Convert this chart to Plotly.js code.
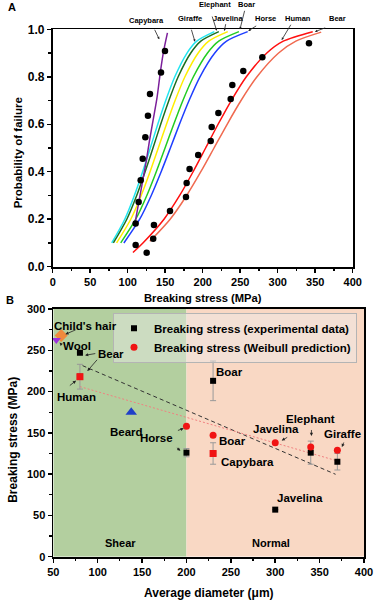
<!DOCTYPE html>
<html>
<head>
<meta charset="utf-8">
<script src="https://cdn.plot.ly/plotly-3.0.1.min.js"></script>
<style>html,body{margin:0;padding:0;background:#fff}#chart{width:381px;height:600px}</style>
</head>
<body>
<div id="chart"></div>
<script>
// ---------- Panel A data ----------
const pGrid = [0.1, 0.2, 0.3, 0.4, 0.5, 0.6, 0.7, 0.8, 0.9, 0.95, 0.99];
const giraffeX = [78.7, 96.1, 108.9, 119.9, 130.1, 140.1, 150.7, 162.8, 179.1, 192.1, 215.5];
const elephantX = [80.9, 98.8, 112.0, 123.2, 133.7, 144.0, 154.9, 167.3, 184.1, 197.5, 221.5];
const javelinaX = [85.2, 104.1, 118.0, 129.8, 140.8, 151.7, 163.2, 176.3, 194.0, 208.1, 233.4];
const boarX = [90.7, 110.7, 125.5, 138.1, 149.8, 161.4, 173.6, 187.6, 206.4, 221.4, 248.3];
const horseX = [94.9, 116.0, 131.4, 144.6, 156.9, 169.0, 181.8, 196.4, 216.1, 231.8, 260.0];

const capyCurveX = [109, 113, 117, 121, 125, 129, 134, 139, 144, 148, 153];
const capyCurveP = [0.17, 0.24, 0.31, 0.38, 0.45, 0.53, 0.62, 0.71, 0.83, 0.91, 0.985];

const humanCurveX = [107, 120.3, 148.4, 169.3, 187.2, 203.9, 220.5, 238.1, 258.2, 285.5, 307.4, 346.7];
const humanCurveP = [0.06, 0.1, 0.2, 0.3, 0.4, 0.5, 0.6, 0.7, 0.8, 0.9, 0.95, 0.99];
const bearCurveX = [129.5, 156.6, 178.6, 197.5, 215.1, 232.6, 251.1, 272.4, 301.2, 324.2, 358];
const bearCurveP = [0.107, 0.2, 0.3, 0.4, 0.5, 0.6, 0.7, 0.8, 0.9, 0.95, 0.988];

const capyDotX = [110.6, 110.6, 114.6, 117.3, 120.0, 123.5, 127.0, 129.7, 144.4, 149.7];
const capyDotP = [0.091, 0.182, 0.273, 0.364, 0.455, 0.545, 0.636, 0.727, 0.818, 0.909];
const humanDotX = [125.3, 134.0, 135.0, 156.4, 177.7, 178.6, 182.5, 194.0, 210.7, 212.0, 220.9, 237.3, 239.5, 254.1, 279.5, 341.7];
const humanDotP = [0.059, 0.118, 0.176, 0.235, 0.294, 0.353, 0.412, 0.471, 0.529, 0.588, 0.647, 0.706, 0.765, 0.824, 0.882, 0.941];

// ---------- Panel B data ----------
const expNames = ['Bear', 'Human', 'Horse', 'Boar', 'Capybara', 'Javelina', 'Elephant', 'Giraffe'];
const expDiam = [80, 80, 200, 230, 230, 300, 340, 370];
const expStress = [247, 218, 126, 213, 125, 57, 126, 115];
const expErr = [null, 15, 5, 24, 13, null, 14, 10];

const weibNames = ['Horse', 'Boar', 'Javelina', 'Elephant', 'Giraffe', 'Human', 'Capybara'];
const weibDiam = [200, 230, 300, 340, 370, 80, 230];
const weibStress = [158, 147, 138, 133, 129, 218, 125];

const fitExpX = [83, 368];
const fitExpY = [231.4, 99.8];
const fitWeibX = [80, 370];
const fitWeibY = [206, 116];

const childX = [58.9], childY = [268];
const woolX = [53.4], woolY = [262.5];
const beardX = [137.8], beardY = [174.9];

// ---------- styles ----------
const FONT = '"Liberation Sans", Arial, sans-serif';
const weibSymbols = ['circle', 'circle', 'circle', 'circle', 'circle', 'square', 'square'];

function curve(x, y, color, w) {
  return {x: x, y: y, type: 'scatter', mode: 'lines', line: {color: color, width: w || 1.5, shape: 'spline', smoothing: 0.8},
    xaxis: 'x', yaxis: 'y', showlegend: false, hoverinfo: 'skip'};
}

const traces = [
  curve(horseX, pGrid, '#1f3fff'),
  curve(boarX, pGrid, '#22cc22'),
  curve(javelinaX, pGrid, '#ffee00'),
  curve(giraffeX, pGrid, '#22e5f0'),
  curve(elephantX, pGrid, '#1e6e1e'),
  curve(capyCurveX, capyCurveP, '#7b1f9a'),
  curve(bearCurveX, bearCurveP, '#f06a50'),
  curve(humanCurveX, humanCurveP, '#ff1010'),
  {x: capyDotX, y: capyDotP, type: 'scatter', mode: 'markers', marker: {color: '#000', size: 6.5},
    xaxis: 'x', yaxis: 'y', showlegend: false, cliponaxis: false},
  {x: humanDotX, y: humanDotP, type: 'scatter', mode: 'markers', marker: {color: '#000', size: 6.5},
    xaxis: 'x', yaxis: 'y', showlegend: false, cliponaxis: false},

  // panel B
  {x: fitExpX, y: fitExpY, type: 'scatter', mode: 'lines', line: {color: '#333', width: 1, dash: '4px,3px'},
    xaxis: 'x2', yaxis: 'y2', showlegend: false},
  {x: fitWeibX, y: fitWeibY, type: 'scatter', mode: 'lines', line: {color: '#f08080', width: 1, dash: '2px,2px'},
    xaxis: 'x2', yaxis: 'y2', showlegend: false},
  {x: childX, y: childY, type: 'scatter', mode: 'markers', marker: {color: '#f08a3c', size: 10, symbol: 'diamond'},
    xaxis: 'x2', yaxis: 'y2', showlegend: false, cliponaxis: false},
  {x: woolX, y: woolY, type: 'scatter', mode: 'markers', marker: {color: '#9b32dc', size: 8, symbol: 'triangle-down'},
    xaxis: 'x2', yaxis: 'y2', showlegend: false, cliponaxis: false},
  {x: beardX, y: beardY, type: 'scatter', mode: 'markers', marker: {color: '#1f3fc8', size: 10, symbol: 'triangle-up'},
    xaxis: 'x2', yaxis: 'y2', showlegend: false},
  {x: expDiam, y: expStress, text: expNames, type: 'scatter', mode: 'markers', name: 'Breaking stress (experimental data)',
    marker: {color: '#000', size: 6, symbol: 'square'},
    error_y: {type: 'data', array: expErr, visible: true, color: '#999', thickness: 1, width: 3},
    xaxis: 'x2', yaxis: 'y2', showlegend: true, cliponaxis: false},
  {x: weibDiam, y: weibStress, text: weibNames, type: 'scatter', mode: 'markers', name: 'Breaking stress (Weibull prediction)',
    marker: {color: '#f01414', size: 7, symbol: weibSymbols},
    xaxis: 'x2', yaxis: 'y2', showlegend: true, cliponaxis: false}
];

function axisBase(extra) {
  return Object.assign({
    showgrid: false, zeroline: false, showline: true, linecolor: '#000', linewidth: 1.8, mirror: true,
    ticks: 'outside', ticklen: 4, tickwidth: 1.5, tickcolor: '#000',
    tickfont: {family: FONT, size: 11, weight: 'bold', color: '#000'},
    fixedrange: true
  }, extra);
}

const ann = [];
function txt(x, y, t, size, bold, xref, yref, extra) {
  ann.push(Object.assign({x: x, y: y, xref: xref, yref: yref, text: t, showarrow: false,
    font: {family: FONT, size: size, weight: bold ? 'bold' : 'normal', color: '#000'},
    xanchor: 'center', yanchor: 'middle'}, extra || {}));
}
function arr(x, y, ax, ay, xref, yref, hs) {
  ann.push({x: x, y: y, xref: xref, yref: yref, text: '', showarrow: true, ax: ax, ay: ay,
    axref: 'pixel', ayref: 'pixel', arrowhead: 2, arrowsize: hs || 1, arrowwidth: 0.8, arrowcolor: '#222',
    standoff: 0, startstandoff: 0});
}
// pixel -> paper helpers for labels placed outside the plotting areas
const PX = px => px / 381;
const PY = py => 1 - py / 600;

// Panel A labels (above the frame, so placed on the page)
const aLab = [
  ['Capybara', 146.7, 20.8], ['Giraffe', 190, 18.3], ['Elephant', 214.7, 4.5], ['Javelina', 227.5, 18.3],
  ['Boar', 246, 4.5], ['Horse', 265, 18.3], ['Human', 298, 18.3], ['Bear', 337, 18.3]
];
aLab.forEach(l => txt(PX(l[1]), PY(l[2]), l[0], 7.5, true, 'paper', 'paper'));
const aArr = [
  [142.1, 0.958, -5.3, -11], [189.7, 0.948, -4, -13.4], [218.7, 0.994, -5, -15.7], [228.8, 0.993, 1.7, -8.3],
  [249.7, 1.0, 5, -20], [260.8, 0.993, 9.4, -6], [305.3, 0.955, 10, -16.7], [349.7, 0.99, 11.7, -4.4]
];
aArr.forEach(a => arr(a[0], a[1], a[2], a[3], 'x', 'y', 0.6));

// Panel B labels
const bLab = [
  ["Child's hair", 85.8, 279.8], ['Wool', 76.4, 255.2], ['Bear', 114.9, 245.5], ['Human', 75.6, 193.1],
  ['Beard', 132.9, 151.4], ['Horse', 166.8, 143.4], ['Boar', 248.9, 224.1], ['Boar', 251.6, 140.1],
  ['Capybara', 268.5, 114.3], ['Javelina', 300.5, 154.7], ['Elephant', 340.1, 166.8], ['Giraffe', 375.9, 148.6],
  ['Javelina', 328, 71.5]
];
bLab.forEach(l => txt(l[1], l[2], l[0], 11.5, true, 'x2', 'y2'));
txt(125.4, 17, 'Shear', 11, true, 'x2', 'y2');
txt(294.9, 17, 'Normal', 11, true, 'x2', 'y2');
const bArr = [
  [63.6, 269.4, 11.7, -5], [57, 259.4, 3.5, 3.5], [85.8, 243.9, 11.7, -2], [88.4, 224.9, 11, -12.7],
  [75.6, 213.2, -7.7, 6], [196.9, 155.5, -7.3, 2.7], [193.2, 128.4, -5, -4], [307.3, 140.7, 7, -4],
  [340.8, 146.2, 0, -7.5], [375.1, 132.9, 2.5, -6]
];
bArr.forEach(a => arr(a[0], a[1], a[2], a[3], 'x2', 'y2', 0.8));

// panel letters and axis titles
txt(PX(11.7), PY(7.3), 'A', 11, true, 'paper', 'paper');
txt(PX(10), PY(300), 'B', 11, true, 'paper', 'paper');
txt(PX(18.3), PY(153), 'Probability of failure', 11.5, true, 'paper', 'paper', {textangle: -90});
txt(PX(203), PY(298), 'Breaking stress (MPa)', 11.2, true, 'paper', 'paper');
txt(PX(12.8), PY(440), 'Breaking stress (MPa)', 12, true, 'paper', 'paper', {textangle: -90});
txt(PX(208.5), PY(592.5), 'Average diameter (μm)', 12, true, 'paper', 'paper');

const layout = {
  width: 381, height: 600,
  margin: {l: 0, r: 0, t: 0, b: 0},
  paper_bgcolor: '#fff', plot_bgcolor: '#fff',
  font: {family: FONT, color: '#000'},
  showlegend: true,
  legend: {x: PX(113), y: PY(312.7), xanchor: 'left', yanchor: 'top',
    bgcolor: 'rgba(236,236,236,0.45)', bordercolor: '#b4b4b4', borderwidth: 1,
    font: {family: FONT, size: 11.5, weight: 'bold', color: '#000'}, traceorder: 'normal', tracegroupgap: 0},
  xaxis: axisBase({domain: [PX(52.7), PX(352.7)], range: [0, 400], anchor: 'y', tick0: 0, dtick: 50,
    minor: {dtick: 25, ticks: 'outside', ticklen: 2.5, tickwidth: 1.2, tickcolor: '#000'}}),
  yaxis: axisBase({domain: [PY(266.7), PY(29.3)], range: [0, 1], anchor: 'x', tick0: 0, dtick: 0.2,
    tickformat: '.1f', tickfont: {family: FONT, size: 12, weight: 'bold', color: '#000'},
    minor: {dtick: 0.1, ticks: 'outside', ticklen: 2.5, tickwidth: 1.2, tickcolor: '#000'}}),
  xaxis2: axisBase({domain: [PX(53.3), PX(364)], range: [50, 400], anchor: 'y2', tick0: 0, dtick: 50,
    minor: {dtick: 25, ticks: 'outside', ticklen: 2.5, tickwidth: 1.2, tickcolor: '#000'}}),
  yaxis2: axisBase({domain: [PY(556.7), PY(309)], range: [0, 300], anchor: 'x2', tick0: 0, dtick: 50,
    minor: {dtick: 25, ticks: 'outside', ticklen: 2.5, tickwidth: 1.2, tickcolor: '#000'}}),
  shapes: [
    {type: 'rect', xref: 'x2', yref: 'y2', x0: 50, x1: 200, y0: 0, y1: 300, fillcolor: '#b3cf9f', line: {width: 0}, layer: 'below'},
    {type: 'rect', xref: 'x2', yref: 'y2', x0: 200, x1: 400, y0: 0, y1: 300, fillcolor: '#f9d8c4', line: {width: 0}, layer: 'below'}
  ],
  annotations: ann
};

Plotly.newPlot('chart', traces, layout, {displayModeBar: false, staticPlot: true});
</script>
</body>
</html>
